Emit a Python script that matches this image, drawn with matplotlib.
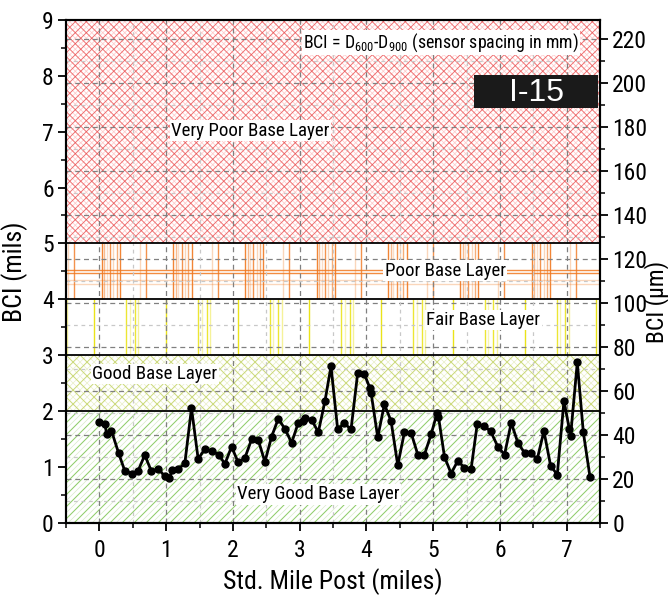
import matplotlib
matplotlib.use("Agg")
import numpy as np
import matplotlib.pyplot as plt
from matplotlib import font_manager
from matplotlib.collections import LineCollection
from matplotlib.patches import Rectangle
from matplotlib.ticker import MultipleLocator
from matplotlib.transforms import Affine2D

# ---- data -------------------------------------------------------------
mile_post = [0.00, 0.08, 0.11, 0.18, 0.29, 0.38, 0.49, 0.58, 0.68, 0.78,
             0.88, 0.98, 1.05, 1.09, 1.18, 1.28, 1.38, 1.48, 1.58, 1.68,
             1.79, 1.88, 1.98, 2.08, 2.18, 2.28, 2.38, 2.48, 2.58, 2.68,
             2.78, 2.88, 2.98, 3.05, 3.08, 3.18, 3.28, 3.38, 3.47, 3.57,
             3.67, 3.77, 3.87, 3.97, 4.05, 4.07, 4.17, 4.27, 4.37, 4.47,
             4.57, 4.67, 4.77, 4.87, 4.97, 5.06, 5.08, 5.17, 5.27, 5.37,
             5.47, 5.57, 5.66, 5.76, 5.86, 5.97, 6.07, 6.17, 6.27, 6.37,
             6.47, 6.56, 6.66, 6.76, 6.86, 6.96, 7.04, 7.06, 7.16, 7.25,
             7.35]
bci_mils = [1.81, 1.77, 1.59, 1.65, 1.24, 0.93, 0.88, 0.93, 1.21, 0.92,
            0.97, 0.83, 0.80, 0.94, 0.96, 1.06, 2.05, 1.14, 1.32, 1.28,
            1.22, 1.05, 1.36, 1.08, 1.16, 1.49, 1.48, 1.09, 1.54, 1.86,
            1.68, 1.43, 1.79, 1.82, 1.88, 1.84, 1.62, 2.18, 2.80, 1.67,
            1.78, 1.67, 2.68, 2.66, 2.42, 2.33, 1.53, 2.12, 1.82, 1.03,
            1.62, 1.61, 1.22, 1.22, 1.58, 1.97, 1.90, 1.18, 0.88, 1.11,
            0.98, 0.97, 1.76, 1.73, 1.64, 1.36, 1.22, 1.79, 1.43, 1.25,
            1.24, 1.14, 1.64, 1.02, 0.86, 2.18, 1.68, 1.56, 2.87, 1.62,
            0.82]

zone_edges = [0, 2, 3, 4, 5, 9]          # BCI limits in mils
zone_names = ["Very Good Base Layer", "Good Base Layer", "Fair Base Layer",
              "Poor Base Layer", "Very Poor Base Layer"]
x_ticks = [0, 1, 2, 3, 4, 5, 6, 7]
mil_ticks = [0, 1, 2, 3, 4, 5, 6, 7, 8, 9]
um_ticks = [0, 20, 40, 60, 80, 100, 120, 140, 160, 180, 200, 220]
MIL_TO_UM = 25.4


# ---- fonts: prefer a narrow sans face ---------------------------------
def pick_narrow_font():
    faces = font_manager.fontManager.ttflist
    for wanted in ("Liberation Sans Narrow", "Arial Narrow",
                   "Roboto Condensed", "Open Sans Condensed"):
        if any(f.name == wanted for f in faces):
            return wanted, "normal", 1.0
    for fam in ("Noto Sans", "Open Sans", "Roboto", "DejaVu Sans"):
        for f in faces:
            if f.name == fam and str(f.stretch) in ("condensed",
                                                    "semi-condensed",
                                                    "extra-condensed"):
                return fam, f.stretch, 0.95 if fam != "DejaVu Sans" else 0.85
    return "Liberation Sans", "normal", 0.82


FONT_NAME, FONT_STRETCH, FS = pick_narrow_font()
plt.rcParams["font.family"] = [FONT_NAME, "Liberation Sans", "DejaVu Sans"]
plt.rcParams["font.stretch"] = FONT_STRETCH
plt.rcParams["mathtext.fontset"] = "custom"
plt.rcParams["mathtext.rm"] = FONT_NAME
plt.rcParams["mathtext.it"] = FONT_NAME

# ---- figure -----------------------------------------------------------
W_PX, H_PX = 668, 602
fig = plt.figure(figsize=(W_PX / 100, H_PX / 100), dpi=100)
left, right, bottom, top = 66, 600, 522.7, 20
ax = fig.add_axes([left / W_PX, 1 - bottom / H_PX,
                   (right - left) / W_PX, (bottom - top) / H_PX])
XMIN, XMAX, YMIN, YMAX = -0.5, 7.5, 0, 9
ax.set_xlim(XMIN, XMAX)
ax.set_ylim(YMIN, YMAX)

AW, AH = right - left, bottom - top
pix = Affine2D().scale(1 / AW, 1 / AH) + ax.transAxes


def y_px(v):
    return (v - YMIN) / (YMAX - YMIN) * AH


def band_clip(y0, y1):
    return Rectangle((XMIN, y0), XMAX - XMIN, y1 - y0, transform=ax.transData)


def diag_lines(y0, y1, step, slope, color, lw, alpha, offset=0.0, z=0.3):
    """Diagonal hatch lines (in pixel space) clipped to a zone."""
    p0, p1 = y_px(y0), y_px(y1)
    h = p1 - p0
    segs = []
    c = -h - 2 * step + offset
    while c < AW + h + step:
        if slope > 0:
            segs.append([(c, p0), (c + h, p1)])
        else:
            segs.append([(c + h, p0), (c, p1)])
        c += step
    lc = LineCollection(segs, colors=color, linewidths=lw, alpha=alpha,
                        transform=pix, zorder=z)
    ax.add_collection(lc)
    lc.set_clip_path(band_clip(y0, y1))


def vert_lines(y0, y1, offsets, period, color, lw, alphas, start, z=0.3):
    p0, p1 = y_px(y0), y_px(y1)
    segs, cols = [], []
    base = start - period * 3
    while base < AW + period:
        for off, a in zip(offsets, alphas):
            xx = base + off
            if 0 <= xx <= AW:
                segs.append([(xx, p0), (xx, p1)])
                cols.append(matplotlib.colors.to_rgba(color, a))
        base += period
    ax.add_collection(LineCollection(segs, colors=cols, linewidths=lw,
                                     transform=pix, zorder=z))


def horiz_lines(levels, color, lw, alphas, z=0.3):
    for lv, a in zip(levels, alphas):
        ax.axhline(lv, color=color, lw=lw, alpha=a, zorder=z)


# Very poor (5-9 mils): red cross hatch
vp0, vp1 = zone_edges[4], zone_edges[5]
diag_lines(vp0, vp1, 11.0, 1, "#ffb8b8", 0.5, 0.8, offset=5.5)
diag_lines(vp0, vp1, 11.0, -1, "#ffb8b8", 0.5, 0.8, offset=5.5)
diag_lines(vp0, vp1, 11.0, 1, "#ea4446", 0.7, 0.75)
diag_lines(vp0, vp1, 11.0, -1, "#ea4446", 0.7, 0.75)

# Poor (4-5 mils): orange bar-code pattern
p0, p1 = zone_edges[3], zone_edges[4]
vert_lines(p0, p1, [0, 2.5, 5, 8.3, 11.7, 15, 18.3, 38.3, 44.3], 71.7,
           "#f07820", 1.0, [0.9, 0.5, 0.25, 0.8, 0.3, 0.6, 0.9, 0.3, 0.8],
           start=101.7 - left)
horiz_lines([4.53, 4.47, 4.35, 4.27], "#f07820", 1.0, [0.85, 0.85, 0.3, 0.3])

# Fair (3-4 mils): yellow bar-code pattern
f0, f1 = zone_edges[2], zone_edges[3]
vert_lines(f0, f1, [0, 32, 35.5, 40.5, 44], 71.7,
           "#e8e000", 1.0, [0.9, 0.8, 0.3, 0.8, 0.4], start=94.3 - left)

# Good (2-3 mils): yellow-green cross hatch
g0, g1 = zone_edges[1], zone_edges[2]
diag_lines(g0, g1, 14.0, 1, "#e6edc0", 0.5, 0.9, offset=7.0)
diag_lines(g0, g1, 14.0, -1, "#e6edc0", 0.5, 0.9, offset=7.0)
diag_lines(g0, g1, 14.0, 1, "#c4d468", 0.75, 0.85)
diag_lines(g0, g1, 14.0, -1, "#c4d468", 0.75, 0.85)

# Very good (0-2 mils): green forward diagonals
vg0, vg1 = zone_edges[0], zone_edges[1]
diag_lines(vg0, vg1, 12.0, 1, "#d3eac2", 0.5, 0.9, offset=6.0)
diag_lines(vg0, vg1, 12.0, 1, "#7cc450", 0.75, 0.85)

# zone boundaries
for e in zone_edges[1:-1]:
    ax.axhline(e, color="black", lw=1.3, zorder=1.5)

# grid: right-axis micron levels and half-mile verticals
for v in range(10, 230, 10):
    major = v % 20 == 0
    ax.axhline(v / MIL_TO_UM, color="#808080" if major else "#c8c8c8",
               lw=0.9, ls=(0, (4, 3)) if major else (0, (3, 3)), zorder=1)
for xv in np.arange(-0.5, 7.51, 0.5):
    if XMIN < xv < XMAX:
        major = float(xv).is_integer()
        ax.axvline(xv, color="#808080" if major else "#c8c8c8",
                   lw=0.9, ls=(0, (4, 3)) if major else (0, (3, 3)), zorder=1)

# data
ax.plot(mile_post, bci_mils, color="black", lw=2.0, marker="o", ms=5,
        zorder=5)

# labels inside zones
box = dict(facecolor="white", edgecolor="none", pad=1.0)
tfs = 13.6 * FS
ax.text(2.26, 7.02, zone_names[4], ha="center", va="center", fontsize=tfs,
        bbox=box, zorder=4)
ax.text(5.18, 4.51, zone_names[3], ha="center", va="center", fontsize=tfs,
        bbox=box, zorder=4)
ax.text(5.75, 3.63, zone_names[2], ha="center", va="center", fontsize=tfs,
        bbox=box, zorder=4)
ax.text(0.83, 2.66, zone_names[1], ha="center", va="center", fontsize=tfs,
        bbox=box, zorder=4)
ax.text(3.28, 0.51, zone_names[0], ha="center", va="center", fontsize=tfs,
        bbox=box, zorder=4)
ax.text(5.12, 8.60, r"BCI = D$_{600}$-D$_{900}$ (sensor spacing in mm)",
        ha="center", va="center", fontsize=tfs * 0.95, bbox=box, zorder=4)

# route tag
ax.add_patch(Rectangle((5.61, 7.43), 1.86, 0.58, facecolor="#1a1a1a",
                       edgecolor="none", zorder=4))
ax.text(6.55, 7.70, "I-15", ha="center", va="center", fontsize=23,
        color="white", family=["Liberation Sans", "DejaVu Sans"],
        stretch="normal", zorder=4.5)

# axes styling
ax.set_xticks(x_ticks)
ax.set_yticks(mil_ticks)
ax.xaxis.set_minor_locator(MultipleLocator(0.5))
ax.yaxis.set_minor_locator(MultipleLocator(0.5))
ax.tick_params(which="major", direction="out", length=5.8, width=1.3,
               labelsize=17 * FS, top=False, right=False)
ax.tick_params(which="minor", direction="out", length=3.3, width=1.1,
               top=False, right=False)
ax.tick_params(axis="x", which="major", pad=6)
ax.tick_params(axis="y", which="major", pad=3)
for s in ax.spines.values():
    s.set_linewidth(1.5)
ax.set_xlabel("Std. Mile Post (miles)", fontsize=18.5 * FS)
ax.xaxis.set_label_coords(0.5, -0.09)
ax.set_ylabel("BCI (mils)", fontsize=18.5 * FS)
ax.yaxis.set_label_coords(-0.071, 0.5)

ax2 = ax.twinx()
ax2.set_ylim(YMIN * MIL_TO_UM, YMAX * MIL_TO_UM)
ax2.set_yticks(um_ticks)
ax2.yaxis.set_minor_locator(MultipleLocator(10))
ax2.tick_params(which="major", direction="out", length=5.8, width=1.3,
                labelsize=17 * FS, pad=3)
ax2.tick_params(which="minor", direction="out", length=3.3, width=1.1)
for s in ax2.spines.values():
    s.set_linewidth(1.5)
ax2.set_ylabel("BCI (\u03bcm)", fontsize=17 * FS)
ax2.yaxis.set_label_coords(1.083, 0.44)

fig.savefig("out.png", dpi=100)
